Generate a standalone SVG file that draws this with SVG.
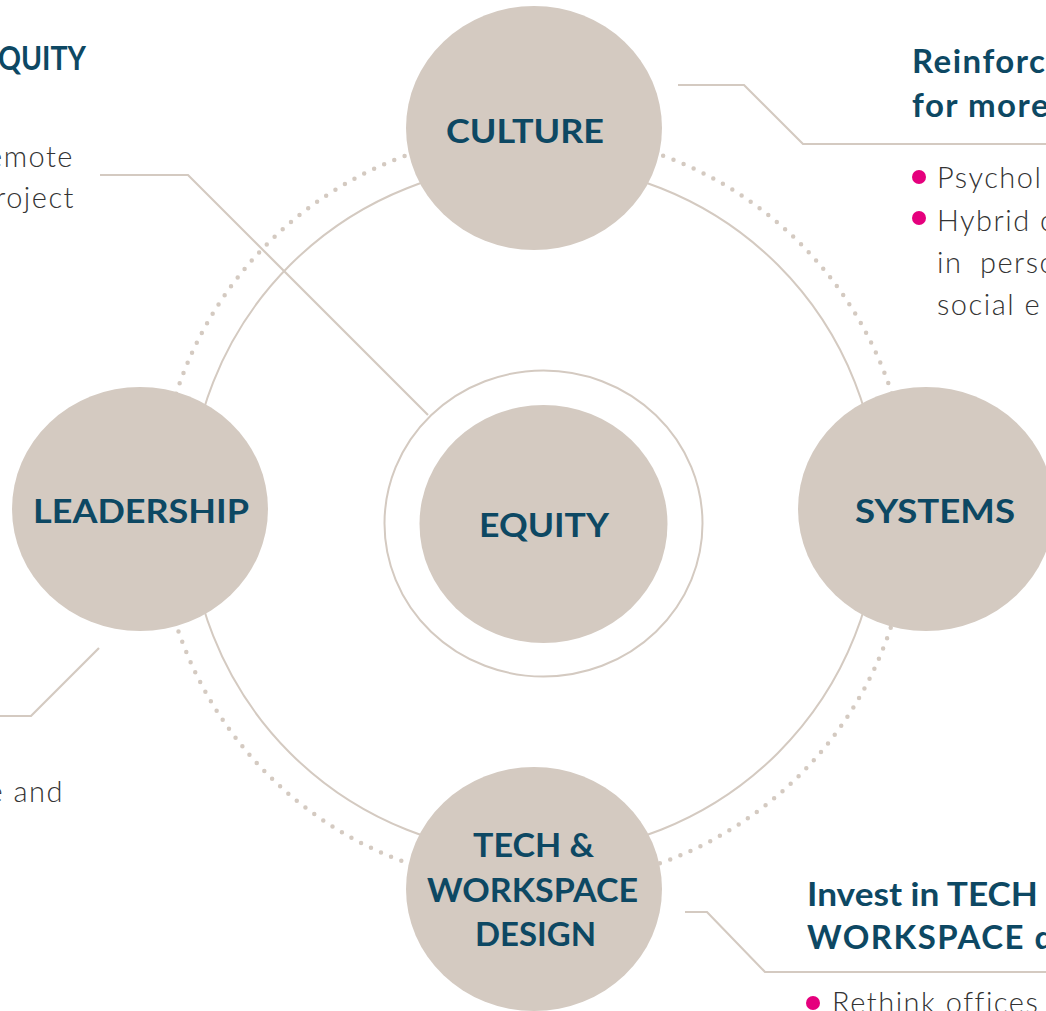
<svg xmlns="http://www.w3.org/2000/svg" width="1046" height="1011" viewBox="0 0 1046 1011">
<style>
.node{fill:#D4CAC1}
.ring{fill:none;stroke:#D4CAC1;stroke-width:2}
.line{fill:none;stroke:#D4CAC1;stroke-width:2.2}
.dots{fill:none;stroke:#D4CAC1;stroke-width:4.5;stroke-linecap:round;stroke-dasharray:0 11}
.lbl{font-family:Lato,"Open Sans",sans-serif;font-weight:700;font-size:32px;fill:#0D4863;text-anchor:middle}
.head{font-family:Lato,"Open Sans",sans-serif;font-weight:700;font-size:33px;fill:#0D4863;letter-spacing:1.5px}
.body{font-family:Lato,"Open Sans",sans-serif;font-weight:300;font-size:29px;fill:#333333;letter-spacing:1.5px}
.bul{fill:#E5007D}
</style>
<rect width="1046" height="1011" fill="#ffffff"/>
<g id="rings">
<circle class="dots" cx="534" cy="509" r="376"/>
<circle class="ring" cx="534" cy="509" r="345"/>
</g>
<g id="connectors">
<polyline class="line" points="100,175 188,175 428,415"/>
<polyline class="line" points="678,85 744,85 803,144 1046,144"/>
<polyline class="line" points="0,716 31,716 99,648"/>
<polyline class="line" points="685,912 707,912 765,972 1046,972"/>
</g>
<g id="equity">
<ellipse class="ring" cx="543.5" cy="523.5" rx="159" ry="153" style="fill:#ffffff"/>
<ellipse class="node" cx="543.5" cy="524" rx="124" ry="119"/>
<text class="lbl" x="544" y="537" textLength="130" lengthAdjust="spacingAndGlyphs">EQUITY</text>
</g>
<g id="culture">
<ellipse class="node" cx="534" cy="128" rx="128" ry="122"/>
<text class="lbl" x="525" y="143" textLength="158" lengthAdjust="spacingAndGlyphs">CULTURE</text>
</g>
<g id="leadership">
<ellipse class="node" cx="140" cy="509" rx="128" ry="122"/>
<text class="lbl" x="141" y="523" textLength="216" lengthAdjust="spacingAndGlyphs">LEADERSHIP</text>
</g>
<g id="systems">
<ellipse class="node" cx="926" cy="509" rx="128" ry="122"/>
<text class="lbl" x="935" y="523" textLength="160" lengthAdjust="spacingAndGlyphs">SYSTEMS</text>
</g>
<g id="tech">
<ellipse class="node" cx="534" cy="889" rx="128" ry="122"/>
<text class="lbl" x="533.5" y="857" textLength="121" lengthAdjust="spacingAndGlyphs">TECH &amp;</text>
<text class="lbl" x="532.5" y="902" textLength="211" lengthAdjust="spacingAndGlyphs">WORKSPACE</text>
<text class="lbl" x="535.5" y="946" textLength="121" lengthAdjust="spacingAndGlyphs">DESIGN</text>
</g>
<g id="text-left">
<text class="head" x="-2" y="70" textLength="88" lengthAdjust="spacingAndGlyphs" style="letter-spacing:0">QUITY</text>
<text class="body" x="74" y="167" text-anchor="end">emote</text>
<text class="body" x="75" y="208" text-anchor="end">roject</text>
<text class="body" x="64" y="802" text-anchor="end">e and</text>
</g>
<g id="text-culture">
<text class="head" x="912" y="73">Reinforc</text>
<text class="head" x="912" y="117">for more</text>
<circle class="bul" cx="919" cy="177" r="7"/>
<circle class="bul" cx="919" cy="218" r="7"/>
<text class="body" x="937" y="188">Psychol</text>
<text class="body" x="937" y="231">Hybrid c</text>
<text class="body" x="937" y="273">in</text>
<text class="body" x="980" y="273">perso</text>
<text class="body" x="937" y="315">social e</text>
</g>
<g id="text-tech">
<text class="head" x="807" y="906" textLength="231" lengthAdjust="spacingAndGlyphs" style="letter-spacing:0">Invest in TECH</text>
<text class="head" x="807" y="949">WORKSPACE d</text>
<circle class="bul" cx="813" cy="1003" r="7"/>
<text class="body" x="832" y="1013">Rethink offices</text>
</g>
</svg>
